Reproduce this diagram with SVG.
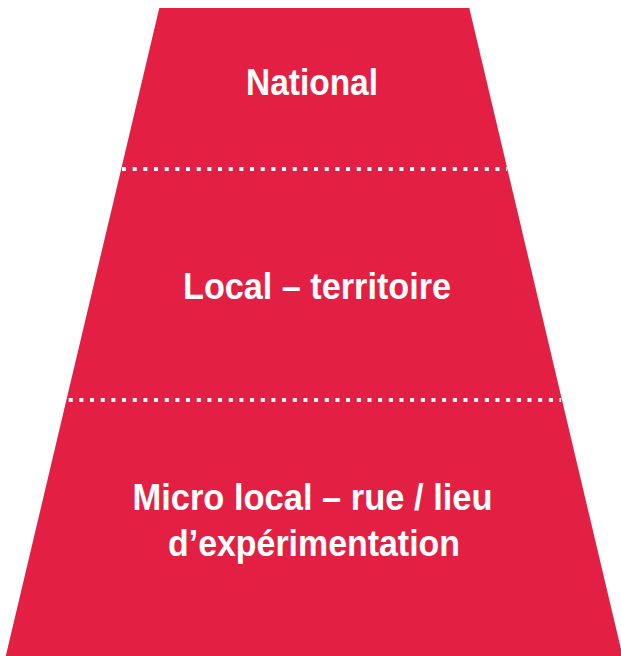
<svg xmlns="http://www.w3.org/2000/svg" width="621" height="656" viewBox="0 0 621 656">
  <style>
    .tier { fill: #E31F44; }
    .divider { stroke: #FFFFFF; stroke-width: 4; stroke-dasharray: 4 6.67; fill: none; }
    .label { font-family: "Liberation Sans", Arial, sans-serif; font-weight: bold; font-size: 37px; fill: #FFFFFF; text-anchor: middle; }
  </style>

  <!-- Pyramid body (trapezoid), split into three levels -->
  <g id="level-national">
    <polygon class="tier" points="159.3,8 469.3,8 507.4,169 121.2,169"/>
    <text class="label" x="312" y="94.5" textLength="132" lengthAdjust="spacingAndGlyphs">National</text>
  </g>
  <g id="level-local">
    <polygon class="tier" points="121.2,169 507.4,169 562,400 66.4,400"/>
    <text class="label" x="317" y="298.5" textLength="268" lengthAdjust="spacingAndGlyphs">Local – territoire</text>
  </g>
  <g id="level-micro-local">
    <polygon class="tier" points="66.4,400 562,400 622.6,656 5.8,656"/>
    <text class="label" x="312.5" y="509.5" textLength="360" lengthAdjust="spacingAndGlyphs">Micro local – rue / lieu</text>
    <text class="label" x="314" y="556" textLength="292" lengthAdjust="spacingAndGlyphs">d’expérimentation</text>
  </g>

  <!-- Dotted separators between levels -->
  <g id="separators">
    <line class="divider" x1="122" y1="169" x2="507" y2="169"/>
    <line class="divider" x1="68.7" y1="400" x2="561" y2="400"/>
  </g>
</svg>
